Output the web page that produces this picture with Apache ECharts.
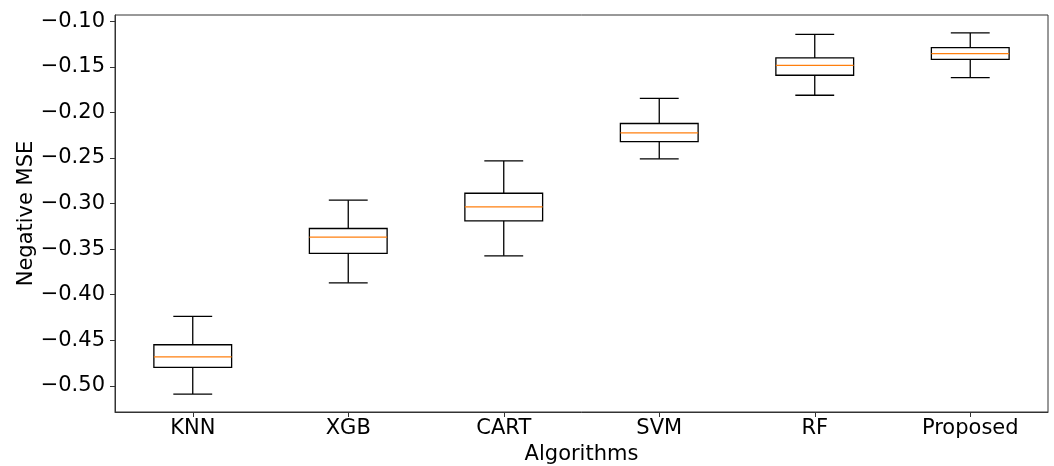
<!DOCTYPE html>
<html>
<head>
<meta charset="utf-8">
<script src="https://cdn.jsdelivr.net/npm/echarts@6/dist/echarts.min.js"></script>
<style>
  html, body { margin: 0; padding: 0; background: #fff; }
  #chart { width: 1054px; height: 466px; }
</style>
</head>
<body>
<div id="chart"></div>
<script>
// 各算法的负 MSE 箱线图数据
const algorithms = ['KNN', 'XGB', 'CART', 'SVM', 'RF', 'Proposed'];
const whiskerLow  = [-0.5091, -0.3870, -0.3574, -0.2510, -0.1812, -0.1618];
const q1          = [-0.4799, -0.3548, -0.3190, -0.2320, -0.1592, -0.1417];
const median      = [-0.4682, -0.3369, -0.3037, -0.2225, -0.1483, -0.1354];
const q3          = [-0.4550, -0.3274, -0.2887, -0.2122, -0.1402, -0.1289];
const whiskerHigh = [-0.4239, -0.2963, -0.2532, -0.1845, -0.1143, -0.1128];
const yTicks = [-0.50, -0.45, -0.40, -0.35, -0.30, -0.25, -0.20, -0.15, -0.10];

const FONT = 'DejaVu Sans';
const FS = 21;
const fmtTick = v => '\u2212' + Math.abs(v).toFixed(2);

const boxData = algorithms.map((_, i) => [i, whiskerLow[i], q1[i], median[i], q3[i], whiskerHigh[i]]);

/** 自绘箱线：须线端帽为箱宽的一半（matplotlib 风格） */
function renderBox(params, api) {
  const i = api.value(0);
  const band = api.size([1, 0])[0];
  const boxW = band * 0.5, capW = band * 0.25;
  const pLow = api.coord([i, api.value(1)]);
  const pQ1 = api.coord([i, api.value(2)]);
  const pMed = api.coord([i, api.value(3)]);
  const pQ3 = api.coord([i, api.value(4)]);
  const pHigh = api.coord([i, api.value(5)]);
  const cx = pMed[0];
  const black = { stroke: '#000', lineWidth: 1.3, fill: null };
  const line = (x1, y1, x2, y2, style) => ({ type: 'line', shape: { x1, y1, x2, y2 }, style });
  return {
    type: 'group',
    children: [
      line(cx, pQ3[1], cx, pHigh[1], black),
      line(cx, pQ1[1], cx, pLow[1], black),
      line(cx - capW / 2, pHigh[1], cx + capW / 2, pHigh[1], black),
      line(cx - capW / 2, pLow[1], cx + capW / 2, pLow[1], black),
      { type: 'rect', shape: { x: cx - boxW / 2, y: pQ3[1], width: boxW, height: pQ1[1] - pQ3[1] },
        style: { stroke: '#000', lineWidth: 1.3, fill: '#fff' } },
      line(cx - boxW / 2, pMed[1], cx + boxW / 2, pMed[1], { stroke: '#ff7f0e', lineWidth: 1.3 })
    ]
  };
}

const chart = echarts.init(document.getElementById('chart'));
chart.setOption({
  animation: false,
  grid: { left: 115, right: 6, top: 15, bottom: 54, show: true, borderColor: '#333', borderWidth: 1,
    outerBoundsMode: 'none', containLabel: false },
  xAxis: {
    type: 'category', data: algorithms,
    name: 'Algorithms', nameLocation: 'middle', nameGap: 32, nameMoveOverlap: false,
    nameTextStyle: { fontFamily: FONT, fontSize: FS, color: '#000' },
    axisLine: { show: true, lineStyle: { color: '#333', width: 1 } },
    axisTick: { show: true, alignWithLabel: true, length: 5, lineStyle: { color: '#333' } },
    axisLabel: { fontFamily: FONT, fontSize: FS, color: '#000', margin: 6, interval: 0 },
    splitLine: { show: false }
  },
  yAxis: {
    type: 'value', min: -0.5288, max: -0.0931,
    name: 'Negative MSE', nameLocation: 'middle', nameGap: 78, nameRotate: 90, nameMoveOverlap: false,
    nameTextStyle: { fontFamily: FONT, fontSize: FS, color: '#000' },
    axisLine: { show: true, lineStyle: { color: '#333', width: 1 } },
    axisTick: { show: true, length: 5, customValues: yTicks, lineStyle: { color: '#333' } },
    axisLabel: { fontFamily: FONT, fontSize: FS, color: '#000', margin: 10,
      customValues: yTicks, formatter: fmtTick },
    splitLine: { show: false }
  },
  series: [{
    type: 'custom', renderItem: renderBox, data: boxData,
    encode: { x: 0, y: [1, 2, 3, 4, 5] }
  }]
});
</script>
</body>
</html>
